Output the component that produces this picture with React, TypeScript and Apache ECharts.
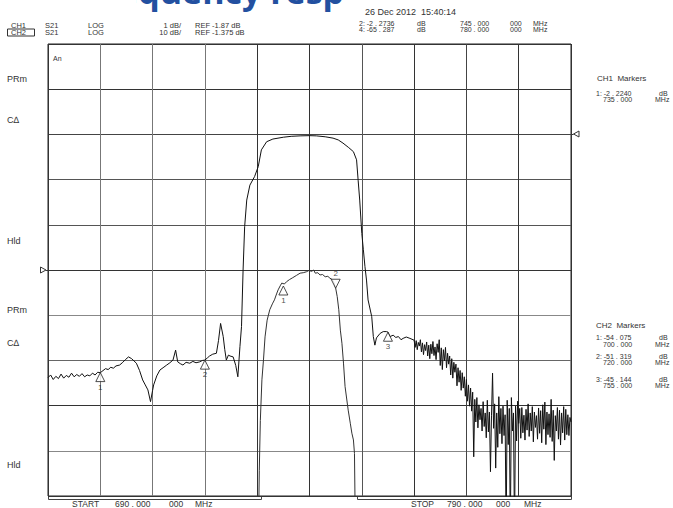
import React, { useEffect, useRef } from "react";
import * as echarts from "echarts";

// ---- sweep / scale settings ----
const startMHz = 690;
const stopMHz = 790;
const divMHz = 10;
const ch1Ref = -1.87; // dB, 1 dB/div, reference at division 5 (from bottom)
const ch1Scale = 1;
const ch1RefDiv = 5;
const ch2Ref = -1.375; // dB, 10 dB/div, reference at division 8
const ch2Scale = 10;
const ch2RefDiv = 8;

// ---- CH2 trace (S21, 10 dB/div): [MHz, dB] ----
const ch2LowSide = [
  [690.0, -55.2], [690.5, -54.6], [691.0, -55.6], [691.5, -54.9], [692.0, -55.4], [692.5, -54.4], [693.0, -55.3],
  [693.5, -54.7], [694.0, -55.1], [694.5, -54.2], [695.0, -55.0], [695.5, -54.5], [696.0, -54.9], [696.5, -54.3],
  [697.0, -55.0], [697.5, -54.6], [698.0, -54.8], [698.5, -54.2], [699.0, -54.6], [699.5, -54.0], [700.0, -54.1],
  [701.0, -53.2], [701.5, -53.4], [702.0, -52.9], [702.5, -53.1], [703.0, -52.6], [703.7, -52.4], [704.3, -51.8],
  [704.8, -51.2], [705.4, -50.6], [706.0, -51.0], [706.9, -52.0], [707.5, -53.6], [708.1, -55.7], [708.6, -56.8],
  [709.1, -57.9], [709.6, -60.5], [710.0, -58.0], [710.2, -56.8], [710.8, -54.8], [711.4, -53.5], [712.0, -53.0],
  [712.7, -52.4], [713.3, -51.9], [713.9, -51.3], [714.4, -49.1], [714.8, -51.7], [715.3, -52.1], [715.8, -52.4],
  [716.4, -51.8], [717.1, -52.0], [717.7, -51.6], [718.3, -51.9], [719.0, -51.7], [719.5, -51.4], [720.0, -51.3],
  [720.5, -50.8], [720.9, -50.4], [721.5, -50.0], [722.2, -49.8], [722.6, -47.0], [723.0, -43.2], [723.5, -46.1],
  [723.8, -49.0], [724.1, -51.3], [724.5, -50.2], [724.8, -50.4], [725.4, -50.6], [725.9, -52.5], [726.3, -55.0],
  [726.7, -48.3], [727.0, -43.9],
];
const ch2Passband = [
  [727.3, -31.4], [727.6, -21.8], [728.0, -15.9], [728.6, -12.6], [729.5, -10.7], [730.2, -8.5], [730.8, -4.8],
  [731.8, -3.0], [733.0, -2.4], [735.0, -2.0], [736.5, -1.8], [738.2, -1.7], [740.0, -1.65], [741.3, -1.7],
  [743.0, -1.9], [744.5, -2.2], [745.5, -2.6], [746.4, -3.3], [747.5, -4.3], [748.4, -5.2], [749.0, -7.0],
  [749.3, -11.5], [749.6, -15.9], [750.0, -23.3], [750.3, -26.9], [750.6, -30.6], [750.9, -33.6], [751.2, -38.0],
  [751.9, -41.7], [752.2, -46.1],
];
const ch2HighSide = [
  [752.5, -48.0], [752.8, -46.4], [753.5, -45.4], [754.1, -45.0], [754.7, -45.0], [755.0, -45.1], [755.4, -46.1],
  [756.0, -45.8], [756.5, -46.3], [757.0, -46.1], [757.5, -46.8], [757.9, -46.5], [758.5, -46.2], [759.2, -46.5],
];
const ch2Noise = [
  [760.0, -46.9], [760.2, -48.5], [760.4, -47.0], [760.6, -49.0], [760.8, -47.4], [761.0, -48.2], [761.2, -46.8],
  [761.4, -49.5], [761.6, -47.5], [761.8, -50.1], [762.0, -47.9], [762.2, -49.2], [762.4, -47.3], [762.6, -50.4],
  [762.8, -48.0], [763.0, -51.0], [763.2, -47.8], [763.4, -49.9], [763.6, -47.2], [763.8, -50.3], [764.0, -48.4],
  [764.2, -51.2], [764.4, -47.7], [764.6, -49.6], [764.8, -46.8], [765.0, -52.5], [765.2, -48.6], [765.4, -53.4],
  [765.6, -49.0], [765.8, -51.5], [766.0, -48.5], [766.2, -53.0], [766.4, -49.8], [766.6, -52.2], [766.8, -50.4],
  [767.0, -54.6], [767.2, -51.0], [767.4, -55.3], [767.6, -51.8], [767.8, -54.0], [768.0, -52.2], [768.2, -57.0],
  [768.4, -53.0], [768.6, -56.2], [768.8, -53.6], [769.0, -58.0], [769.2, -54.1], [769.4, -57.5], [769.6, -55.0],
  [769.8, -59.3], [770.0, -55.6], [770.2, -60.4], [770.4, -56.8], [770.6, -61.5], [770.8, -57.5], [771.0, -62.6],
  [771.2, -58.4], [771.4, -72.7], [771.6, -60.0], [771.8, -65.0], [772.0, -59.6], [772.2, -66.3], [772.4, -61.2],
  [772.6, -64.5], [772.8, -62.0], [773.0, -67.0], [773.2, -60.5], [773.4, -66.0], [773.6, -63.0], [773.8, -68.5],
  [774.0, -60.2], [774.2, -67.2], [774.4, -62.8], [774.6, -76.0], [774.8, -63.5], [775.0, -54.2], [775.2, -66.4],
  [775.4, -61.0], [775.6, -75.2], [775.8, -63.0], [776.0, -70.6], [776.2, -59.4], [776.4, -67.6], [776.6, -62.0],
  [776.8, -69.8], [777.0, -61.5], [777.2, -68.0], [777.4, -63.4], [777.6, -90.0], [777.8, -60.2], [778.0, -70.0],
  [778.2, -62.0], [778.4, -90.0], [778.6, -59.6], [778.8, -67.0], [779.0, -63.0], [779.2, -90.0], [779.4, -61.5],
  [779.6, -69.2], [779.8, -60.4], [780.0, -65.3], [780.2, -62.0], [780.4, -68.6], [780.6, -61.8], [780.8, -67.4],
  [781.0, -63.5], [781.2, -69.0], [781.4, -62.2], [781.6, -66.8], [781.8, -61.0], [782.0, -68.2], [782.2, -63.0],
  [782.4, -67.0], [782.6, -61.6], [782.8, -69.4], [783.0, -62.8], [783.2, -66.2], [783.4, -63.6], [783.6, -68.8],
  [783.8, -61.9], [784.0, -67.5], [784.2, -62.5], [784.4, -69.6], [784.6, -61.2], [784.8, -66.6], [785.0, -60.6],
  [785.2, -70.0], [785.4, -62.8], [785.6, -67.8], [785.8, -63.2], [786.0, -68.4], [786.2, -60.0], [786.4, -69.3],
  [786.6, -62.4], [786.8, -73.5], [787.0, -63.6], [787.2, -67.0], [787.4, -61.8], [787.6, -68.8], [787.8, -62.4],
  [788.0, -70.1], [788.2, -63.0], [788.4, -67.4], [788.6, -61.6], [788.8, -69.0], [789.0, -62.2], [789.2, -67.8],
  [789.4, -63.4], [789.6, -68.0], [789.8, -64.0], [790.0, -65.0],
];

// ---- CH1 trace (S21, 1 dB/div, passband detail): [MHz, dB] ----
const ch1Trace = [
  [730.2, -8.0], [730.4, -6.3], [730.6, -5.2], [730.9, -4.3], [731.2, -3.86], [731.5, -3.35], [731.9, -2.98],
  [732.4, -2.75], [732.9, -2.62], [733.3, -2.53], [733.7, -2.4], [734.0, -2.31], [734.4, -2.22], [734.7, -2.16],
  [735.2, -2.18], [735.6, -2.13], [736.2, -2.08], [736.8, -2.04], [737.5, -1.99], [738.2, -1.94], [738.8, -1.93],
  [739.4, -1.91], [739.9, -1.88], [740.4, -1.9], [740.8, -1.87], [741.1, -1.94], [741.6, -1.93], [742.0, -1.98],
  [742.5, -1.97], [743.0, -2.02], [743.5, -2.01], [743.9, -2.05], [744.3, -2.08], [744.6, -2.13], [745.0, -2.27],
  [745.3, -2.46], [745.6, -2.75], [745.9, -3.2], [746.2, -3.49], [746.5, -3.93], [746.8, -4.45], [747.4, -4.97],
  [747.8, -5.26], [748.1, -5.48], [748.4, -5.63], [748.6, -5.93], [748.8, -8.0],
];

// ---- markers ----
const ch1MarkerNo = ["1", "2"];
const ch1MarkerFreq = [735, 745];
const ch1MarkerLevel = [-2.224, -2.2736];
const ch2MarkerNo = ["1", "2", "3"];
const ch2MarkerFreq = [700, 720, 755];
const ch2MarkerLevel = [-54.075, -51.319, -45.144];

// ---- annotation texts ----
const titleText = "Frequency response";
const dateText = "26 Dec 2012  15:40:14";
const headerCh1 = ["CH1", "S21", "LOG", "1 dB/", "REF -1.87 dB"];
const headerCh2 = ["CH2", "S21", "LOG", "10 dB/", "REF -1.375 dB"];
const activeRow1 = ["2: -2 . 2736", "dB", "745 . 000", "000", "MHz"];
const activeRow2 = ["4: -65 . 287", "dB", "780 . 000", "000", "MHz"];
const ch1MarkerTitle = "CH1  Markers";
const ch1MarkerLines = [["1: -2 . 2240", "dB"], ["735 . 000", "MHz"]];
const ch2MarkerTitle = "CH2  Markers";
const ch2MarkerLines = [
  ["1: -54 . 075", "dB"], ["700 . 000", "MHz"],
  ["2: -51 . 319", "dB"], ["720 . 000", "MHz"],
  ["3: -45 . 144", "dB"], ["755 . 000", "MHz"],
];
const softkeys = ["PRm", "C\u2206", "Hld", "PRm", "C\u2206", "Hld"];
const startText = ["START", "690 . 000", "000", "MHz"];
const stopText = ["STOP", "790 . 000", "000", "MHz"];

const FONT = '"Liberation Sans", Arial, sans-serif';

function txt(text: string, x: number, y: number, size = 8, align = "left") {
  return {
    type: "text",
    x,
    y,
    silent: true,
    style: {
      text,
      fill: "#333",
      font: `${size}px ${FONT}`,
      lineHeight: size,
      textVerticalAlign: "middle",
      verticalAlign: "middle",
      textAlign: align,
      align,
    },
  };
}

export default function App() {
  const ref = useRef<HTMLDivElement>(null);

  useEffect(() => {
    if (!ref.current) return;
    const chart = echarts.init(ref.current, undefined, { renderer: "svg" });

    const ch1Min = ch1Ref - ch1RefDiv * ch1Scale;
    const ch2Min = ch2Ref - ch2RefDiv * ch2Scale;

    const xColors = ["#333", "#777", "#777", "#777", "#333", "#333", "#555", "#333", "#444", "#333", "#333"];
    const yColors = ["#333", "#888", "#333", "#666", "#888", "#333", "#555", "#555", "#444", "#333", "#333"];

    const graphic: any[] = [];
    // slide title, partly hidden behind the analyser screenshot
    graphic.push({
      type: "text",
      x: 84,
      y: -9.5,
      silent: true,
      z: 1,
      style: {
        text: titleText,
        fill: "#2350a0",
        font: `bold 34px "Open Sans", sans-serif`,
        lineHeight: 30,
        textVerticalAlign: "middle",
        verticalAlign: "middle",
      },
    });
    graphic.push({ type: "rect", silent: true, z: 2, shape: { x: 0, y: 0, width: 136, height: 20 }, style: { fill: "#fff" } });
    graphic.push({ type: "rect", silent: true, z: 2, shape: { x: 343, y: 0, width: 330, height: 20 }, style: { fill: "#fff" } });

    const texts: any[] = [];
    texts.push(txt(dateText, 365, 11.5, 9));
    // header left
    const hx = [11, 45, 88, 181, 195];
    headerCh1.forEach((t, i) => texts.push(txt(t, hx[i], 25, 7.5, i === 3 ? "right" : "left")));
    headerCh2.forEach((t, i) => texts.push(txt(t, hx[i], 32.6, 7.5, i === 3 ? "right" : "left")));
    // header right
    const rx = [359, 417, 460, 510, 533];
    activeRow1.forEach((t, i) => texts.push(txt(t, rx[i], 23.6, 7)));
    activeRow2.forEach((t, i) => texts.push(txt(t, rx[i], 29.8, 7)));
    // right marker tables
    texts.push(txt(ch1MarkerTitle, 597, 78, 8));
    texts.push(txt(ch1MarkerLines[0][0], 596, 93.3, 7));
    texts.push(txt(ch1MarkerLines[0][1], 659, 93.3, 7));
    texts.push(txt(ch1MarkerLines[1][0], 603, 99.6, 7));
    texts.push(txt(ch1MarkerLines[1][1], 655, 99.6, 7));
    texts.push(txt(ch2MarkerTitle, 596, 325, 8));
    const ch2Ys = [337.8, 344.1, 356.3, 362.6, 379.3, 385.6];
    ch2MarkerLines.forEach((ln, i) => {
      const even = i % 2 === 0;
      texts.push(txt(ln[0], even ? 596 : 603, ch2Ys[i], 7));
      texts.push(txt(ln[1], even ? 659 : 655, ch2Ys[i], 7));
    });
    // softkey labels
    const sy = [79, 120, 241, 310, 343, 465];
    softkeys.forEach((t, i) => texts.push(txt(t, 7, sy[i], 9)));
    texts.push(txt("An", 53, 58, 7));
    // start / stop
    const stx = [72, 115, 169, 195];
    startText.forEach((t, i) => texts.push(txt(t, stx[i], 503.5, 8.5)));
    const spx = [411, 447, 496, 524];
    stopText.forEach((t, i) => texts.push(txt(t, spx[i], 503.5, 8.5)));
    texts.forEach((t) => { t.z = 3; graphic.push(t); });

    // CH2 label box
    graphic.push({ type: "rect", silent: true, z: 3, shape: { x: 7.5, y: 29, width: 27, height: 7 }, style: { fill: "none", stroke: "#333", lineWidth: 1 } });
    // frame under grid
    graphic.push({ type: "polyline", silent: true, shape: { points: [[48.5, 496], [48.5, 499.5], [261.5, 499.5], [261.5, 496]] }, style: { fill: "none", stroke: "#444", lineWidth: 1 } });
    graphic.push({ type: "polyline", silent: true, shape: { points: [[357.5, 496], [357.5, 499.5], [571.5, 499.5], [571.5, 496]] }, style: { fill: "none", stroke: "#444", lineWidth: 1 } });
    // reference pointers
    graphic.push({ type: "polygon", silent: true, shape: { points: [[40.5, 267], [40.5, 273], [46, 270]] }, style: { fill: "#fff", stroke: "#333", lineWidth: 1 } });
    graphic.push({ type: "line", silent: true, shape: { x1: 46, y1: 270.5, x2: 48, y2: 270.5 }, style: { stroke: "#333", lineWidth: 1 } });
    graphic.push({ type: "polygon", silent: true, shape: { points: [[579, 131], [579, 137], [573.5, 134]] }, style: { fill: "#fff", stroke: "#333", lineWidth: 1 } });
    graphic.push({ type: "line", silent: true, shape: { x1: 571, y1: 134.5, x2: 573.5, y2: 134.5 }, style: { stroke: "#333", lineWidth: 1 } });

    const labelStyle = { show: true, color: "#222", fontSize: 8, fontFamily: FONT, distance: 1 };
    const ch2Data = [...ch2LowSide, ...ch2Passband, ...ch2HighSide, ...ch2Noise];

    chart.setOption({
      animation: false,
      backgroundColor: "#fff",
      grid: { left: 48, top: 44, width: 523, height: 452, show: true, borderColor: "#222", borderWidth: 1, backgroundColor: "transparent" },
      xAxis: {
        type: "value",
        min: startMHz,
        max: stopMHz,
        interval: divMHz,
        axisLine: { show: false },
        axisTick: { show: false },
        axisLabel: { show: false },
        splitLine: { show: true, lineStyle: { color: xColors, width: 1 } },
      },
      yAxis: [
        {
          type: "value",
          min: 0,
          max: 10,
          interval: 1,
          axisLine: { show: false },
          axisTick: { show: false },
          axisLabel: { show: false },
          splitLine: { show: true, lineStyle: { color: yColors, width: 1 } },
        },
        { type: "value", show: false, min: ch1Min, max: ch1Min + 10 * ch1Scale, splitLine: { show: false } },
        { type: "value", show: false, min: ch2Min, max: ch2Min + 10 * ch2Scale, splitLine: { show: false } },
      ],
      graphic,
      series: [
        {
          type: "line",
          name: "CH2",
          yAxisIndex: 2,
          data: ch2Data,
          showSymbol: false,
          symbol: "none",
          clip: true,
          lineStyle: { color: "#111", width: 1 },
          z: 3,
        },
        {
          type: "line",
          name: "CH1",
          yAxisIndex: 1,
          data: ch1Trace,
          showSymbol: false,
          symbol: "none",
          clip: true,
          lineStyle: { color: "#333", width: 1 },
          z: 3,
        },
        {
          type: "scatter",
          yAxisIndex: 2,
          data: ch2MarkerFreq.map((f, i) => ({ value: [f, ch2MarkerLevel[i]], name: ch2MarkerNo[i] })),
          symbol: "triangle",
          symbolSize: [9, 9],
          symbolOffset: [0, "50%"],
          itemStyle: { color: "#fff", borderColor: "#222", borderWidth: 1 },
          label: { ...labelStyle, position: "bottom", formatter: (p: any) => p.name },
          z: 5,
        },
        {
          type: "scatter",
          yAxisIndex: 1,
          data: [{ value: [ch1MarkerFreq[0], ch1MarkerLevel[0]], name: ch1MarkerNo[0] }],
          symbol: "triangle",
          symbolSize: [9, 9],
          symbolOffset: [0, "50%"],
          itemStyle: { color: "#fff", borderColor: "#222", borderWidth: 1 },
          label: { ...labelStyle, position: "bottom", formatter: (p: any) => p.name },
          z: 5,
        },
        {
          type: "scatter",
          yAxisIndex: 1,
          data: [{ value: [ch1MarkerFreq[1], ch1MarkerLevel[1]], name: ch1MarkerNo[1] }],
          symbol: "path://M0,0 L10,0 L5,10 Z",
          symbolSize: [9, 9],
          symbolOffset: [0, "-50%"],
          itemStyle: { color: "#fff", borderColor: "#222", borderWidth: 1 },
          label: { ...labelStyle, position: "top", formatter: (p: any) => p.name },
          z: 5,
        },
      ],
    });

    return () => chart.dispose();
  }, []);

  return (
    <div
      ref={ref}
      style={{ position: "fixed", left: 0, top: 0, width: 673, height: 508, background: "#fff" }}
    />
  );
}
